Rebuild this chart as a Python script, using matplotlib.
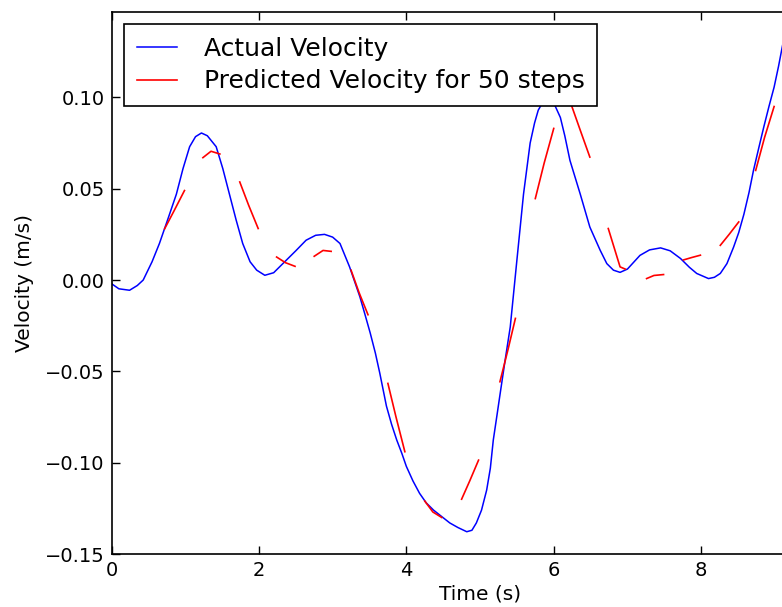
import numpy as np
import matplotlib
matplotlib.use("Agg")
import matplotlib.pyplot as plt

# actual velocity
t_actual = [0.0, 0.10, 0.245, 0.35, 0.43, 0.55, 0.65, 0.77, 0.88, 0.97, 1.06,
            1.14, 1.22, 1.30, 1.42, 1.51, 1.60, 1.69, 1.78, 1.88, 1.97, 2.08,
            2.20, 2.37, 2.50, 2.64, 2.77, 2.89, 3.00, 3.10, 3.23, 3.30, 3.37,
            3.44, 3.51, 3.58, 3.64, 3.73, 3.80, 3.87, 3.94, 4.00, 4.09, 4.18,
            4.27, 4.37, 4.48, 4.59, 4.70, 4.82, 4.89, 4.95, 5.02, 5.09, 5.14,
            5.18, 5.23, 5.27, 5.34, 5.41, 5.50, 5.59, 5.68, 5.74, 5.79, 5.86,
            5.93, 6.00, 6.09, 6.15, 6.22, 6.36, 6.49, 6.63, 6.72, 6.81, 6.90,
            7.00, 7.17, 7.30, 7.45, 7.58, 7.72, 7.84, 7.94, 8.10, 8.18, 8.26,
            8.35, 8.44, 8.51, 8.58, 8.65, 8.71, 8.78, 8.85, 8.92, 8.99, 9.05,
            9.10, 9.30]
v_actual = [-0.002, -0.0048, -0.0056, -0.003, 0.0, 0.010, 0.020, 0.034, 0.047,
            0.061, 0.073, 0.0785, 0.0805, 0.079, 0.073, 0.061, 0.047, 0.033,
            0.020, 0.010, 0.0054, 0.0026, 0.004, 0.0108, 0.016, 0.0218, 0.0245,
            0.025, 0.0235, 0.020, 0.0072, -0.001, -0.0092, -0.019, -0.029,
            -0.040, -0.051, -0.069, -0.079, -0.0876, -0.095, -0.102, -0.110,
            -0.1168, -0.122, -0.126, -0.1295, -0.133, -0.1355, -0.1378, -0.137,
            -0.133, -0.126, -0.115, -0.103, -0.0876, -0.074, -0.063, -0.044,
            -0.0257, 0.0108, 0.047, 0.075, 0.086, 0.093, 0.098, 0.0993, 0.097,
            0.089, 0.079, 0.0655, 0.047, 0.029, 0.0163, 0.009, 0.0054, 0.0042,
            0.006, 0.0135, 0.0165, 0.0176, 0.016, 0.0118, 0.007, 0.0036, 0.0008,
            0.0015, 0.0036, 0.009, 0.018, 0.026, 0.036, 0.048, 0.060, 0.072,
            0.0838, 0.095, 0.1056, 0.117, 0.1275, 0.167]

# predicted velocity, one short piece per 50-step horizon
pred_t = [[0.72, 0.85, 0.99], [1.24, 1.35, 1.47], [1.74, 1.86, 1.99],
          [2.24, 2.36, 2.49], [2.75, 2.87, 2.98], [3.25, 3.36, 3.48],
          [3.75, 3.86, 3.98], [4.25, 4.36, 4.48], [4.75, 4.86, 4.98],
          [5.27, 5.38, 5.48], [5.75, 5.87, 6.00], [6.22, 6.36, 6.49],
          [6.74, 6.90, 6.97], [7.26, 7.36, 7.49], [7.76, 7.87, 7.99],
          [8.26, 8.38, 8.51], [8.74, 8.86, 8.99]]
pred_v = [[0.028, 0.038, 0.049], [0.067, 0.0705, 0.069], [0.0537, 0.041, 0.0282],
          [0.0126, 0.0095, 0.0075], [0.013, 0.0162, 0.0157], [0.0054, -0.007, -0.019],
          [-0.0566, -0.075, -0.094], [-0.121, -0.127, -0.130], [-0.120, -0.110, -0.0986],
          [-0.0557, -0.038, -0.021], [0.0446, 0.064, 0.083], [0.098, 0.082, 0.0673],
          [0.0282, 0.0072, 0.006], [0.0008, 0.0025, 0.003], [0.011, 0.0123, 0.0136],
          [0.019, 0.025, 0.0318], [0.060, 0.078, 0.095]]

# join the pieces with gaps so they plot as one line
px, py = [], []
for tt, vv in zip(pred_t, pred_v):
    px += tt + [np.nan]
    py += vv + [np.nan]

fig = plt.figure(figsize=(7.82, 6.07), dpi=100)
ax = fig.add_axes([0.1426, 0.0873, 0.9425, 0.8937])

ax.plot(t_actual, v_actual, color='b', linewidth=1.1, label="Actual Velocity")
ax.plot(px, py, color='r', linewidth=1.2,
        label="Predicted Velocity for 50 steps")

ax.set_xlim(0, 10)
ax.set_ylim(-0.15, 0.147)
ax.set_xticks([0, 2, 4, 6, 8])
ax.set_yticks([-0.15, -0.10, -0.05, 0.0, 0.05, 0.10])
ax.set_yticklabels(["\u22120.15", "\u22120.10", "\u22120.05", "0.00", "0.05", "0.10"])
ax.tick_params(direction='in', top=True, right=True, length=6, width=1,
               labelsize=14, pad=5)
for s in ax.spines.values():
    s.set_linewidth(1.2)

ax.set_xlabel("Time (s)", fontsize=14.5, labelpad=3)
ax.set_ylabel("Velocity (m/s)", fontsize=14.5, labelpad=8)

leg = ax.legend(loc='upper left', fontsize=18, fancybox=False,
                framealpha=1, edgecolor='k', borderaxespad=0.5,
                labelspacing=0.35, handlelength=1.6, handletextpad=1.1,
                borderpad=0.5)
leg.get_frame().set_linewidth(1.2)

fig.savefig("out.png", dpi=100)
